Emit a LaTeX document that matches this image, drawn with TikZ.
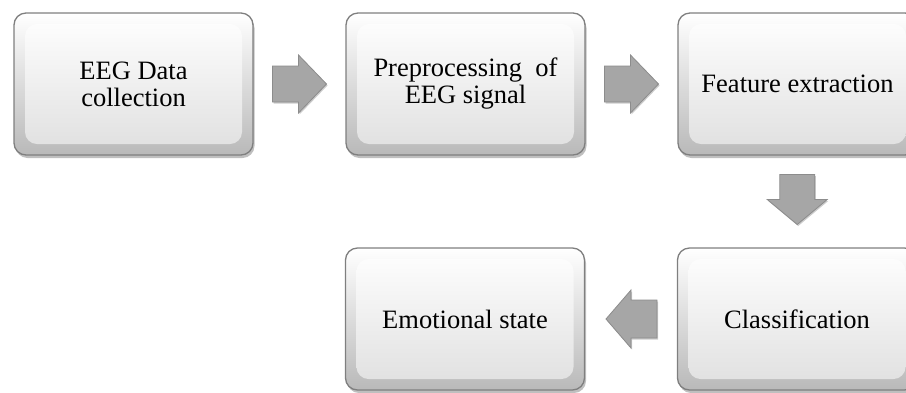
\documentclass[tikz,border=0pt]{standalone}
\usepackage{fontspec}
\setmainfont{Liberation Serif}
\usetikzlibrary{calc,shadows}
\definecolor{boxborder}{HTML}{7F7F7F}
\definecolor{arrowfill}{HTML}{A6A6A6}
\definecolor{arrowline}{HTML}{8C8C8C}
\tikzset{
  stagebox/.style={draw=boxborder, line width=1.3pt, rounded corners=12pt,
    minimum width=239pt, minimum height=142pt, inner sep=0pt, align=center,
    font=\fontsize{26.5}{27}\selectfont,
    top color=white, bottom color=gray!55,
    drop shadow={shadow xshift=1.5pt, shadow yshift=-3pt, fill=black, opacity=0.25},
    path picture={
      \shade[top color=white, bottom color=gray!25]
        ([shift={(11pt,-11pt)}]path picture bounding box.north west)
        rectangle ([shift={(-11pt,11pt)}]path picture bounding box.south east);
    }},
  blockarrow/.style={fill=arrowfill, draw=arrowline, line width=0.8pt, line join=miter,
    drop shadow={shadow xshift=1pt, shadow yshift=-1.5pt, fill=black, opacity=0.2}}
}
\begin{document}
\begin{tikzpicture}[x=1pt,y=-1pt]
\useasboundingbox (0,0) rectangle (906,392);
\node[stagebox] (b1) at (133.5,84) {EEG Data\\collection};
\node[stagebox] (b2) at (465.5,84) {Preprocessing\enspace of\\EEG signal};
\node[stagebox] (b3) at (797.5,84) {Feature extraction};
\node[stagebox] (b4) at (797,319) {Classification};
\node[stagebox] (b5) at (465,319) {Emotional state};
% connectors
\coordinate (a1) at ($(b1.east)!0.5!(b2.west)$);
\coordinate (a2) at ($(b2.east)!0.5!(b3.west)$);
\coordinate (a3) at ($(b3.south)!0.5!(b4.north)$);
\coordinate (a4) at ($(b5.east)!0.5!(b4.west)$);
\foreach \c in {a1,a2}{
  \draw[blockarrow] ([shift={(-27,-18)}]\c) -- ([shift={(-1,-18)}]\c) -- ([shift={(-1,-29)}]\c)
    -- ([shift={(27,0)}]\c) -- ([shift={(-1,29)}]\c) -- ([shift={(-1,18)}]\c)
    -- ([shift={(-27,18)}]\c) -- cycle;
}
\draw[blockarrow] ([shift={(-17.5,-27)}]a3) -- ([shift={(17.5,-27)}]a3) -- ([shift={(17.5,-2)}]a3)
    -- ([shift={(30,-2)}]a3) -- ([shift={(0,23)}]a3) -- ([shift={(-30,-2)}]a3)
    -- ([shift={(-17.5,-2)}]a3) -- cycle;
\draw[blockarrow] ([shift={(26,-19)}]a4) -- ([shift={(0,-19)}]a4) -- ([shift={(0,-29)}]a4)
    -- ([shift={(-25,0)}]a4) -- ([shift={(0,29)}]a4) -- ([shift={(0,19)}]a4)
    -- ([shift={(26,19)}]a4) -- cycle;
\end{tikzpicture}
\end{document}
